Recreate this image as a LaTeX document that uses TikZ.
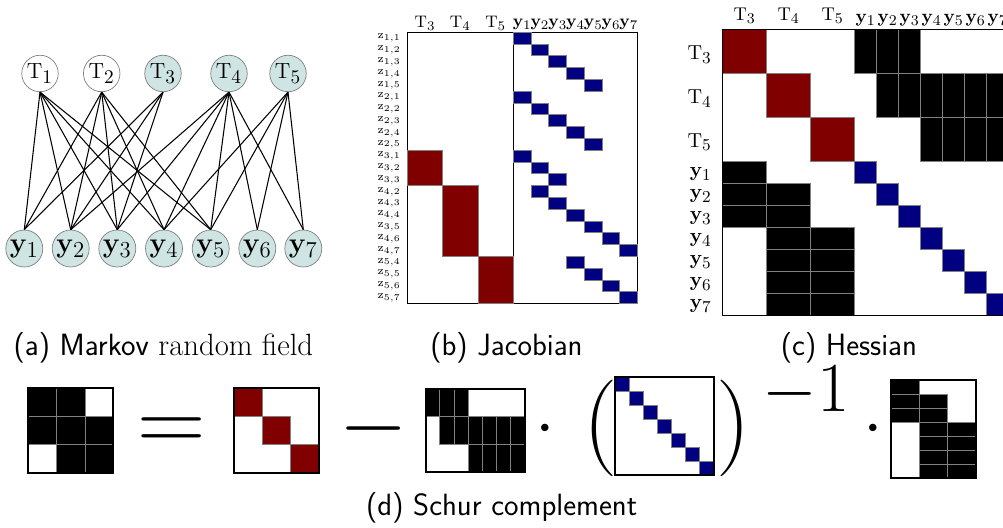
\RequirePackage{fix-cm}
\documentclass[tikz,border=0pt]{standalone}
\usepackage{amssymb, amsmath}
\usepackage{tikz}

\DeclareMathSizes{12.5}{12.5}{11}{8}
\DeclareMathSizes{16}{16}{13}{10}
\DeclareMathSizes{9.5}{9.5}{7.5}{6}
\DeclareMathSizes{10.5}{10.5}{8.5}{6}
\DeclareMathSizes{11.5}{11.5}{9.5}{7}
\DeclareMathSizes{6.5}{6.5}{5}{5}

\definecolor{mrfteal}{RGB}{207,229,227}
\definecolor{blockred}{RGB}{128,0,0}
\definecolor{blockblue}{RGB}{0,0,128}

\tikzset{
  tnode/.style={circle, draw=gray, fill=white, minimum size=0.73cm, inner sep=0pt, font=\fontsize{12.5}{14}\selectfont},
  ynode/.style={circle, draw=gray, fill=mrfteal, minimum size=0.74cm, inner sep=0pt, font=\fontsize{16}{19}\selectfont},
  redcell/.style={draw=gray, fill=blockred, line width=0.5pt},
  bluecell/.style={draw=gray, fill=blockblue, line width=0.5pt},
  blackcell/.style={draw=gray, fill=black, line width=0.5pt},
  subcap/.style={anchor=base, inner sep=0pt, font=\fontsize{17.5}{20}\sffamily},
  zlabel/.style={anchor=east, inner sep=0pt, font=\fontsize{6.5}{7}\selectfont},
  jhead/.style={anchor=base, inner sep=0pt, font=\fontsize{9.5}{11}\selectfont},
  hhead/.style={anchor=base, inner sep=0pt, font=\fontsize{10.5}{12}\selectfont},
  hrow/.style={anchor=base east, inner sep=0pt, font=\fontsize{11.5}{13}\selectfont},
  bigsym/.style={anchor=base, inner sep=0pt}
}

\begin{document}
\begin{tikzpicture}[x=0.02cm, y=-0.02cm]
  \useasboundingbox (0,0) rectangle (1003,527);

  % (a) Markov random field
  \node[tnode] (T1) at (40,73.5) {$\mathrm{T}_1$};
  \node[tnode] (T2) at (101.7,73.5) {$\mathrm{T}_2$};
  \node[tnode, fill=mrfteal] (T3) at (163,73.5) {$\mathrm{T}_3$};
  \node[tnode, fill=mrfteal] (T4) at (229,73.5) {$\mathrm{T}_4$};
  \node[tnode, fill=mrfteal] (T5) at (288,73.5) {$\mathrm{T}_5$};
  \foreach \k/\x in {1/24.3,2/70.7,3/117.3,4/164,5/210.7,6/257.3,7/303.3}
    \node[ynode] (y\k) at (\x,248.5) {$\mathbf{y}_\k$};
  \foreach \t/\ys in {1/{1,2,3,4,5}, 2/{1,2,3,4,5}, 3/{1,2,3}, 4/{2,3,4,5,6,7}, 5/{4,5,6,7}}
    \foreach \y in \ys \draw[semithick] (T\t.south) -- (y\y.north);
  \node[subcap] (capa) at (163.4,355) {(a) Markov \rmfamily random field};

  % (b) Jacobian
  \draw[semithick] (407.3,32.3) rectangle (637.7,303.7);
  \draw[semithick] (513.3,32.3) -- (513.3,303.7);
  \draw[redcell] (407.3,150.3) rectangle (442.6,185.7);
  \draw[redcell] (442.6,185.7) rectangle (478,256.5);
  \draw[redcell] (478,256.5) rectangle (513.3,303.7);
  \foreach \r/\c in {0/1,1/2,2/3,3/4,4/5,5/1,6/2,7/3,8/4,9/5,10/1,11/2,12/3,13/2,14/3,15/4,16/5,17/6,18/7,19/4,20/5,21/6,22/7}
    \draw[bluecell] ({513.3+17.77*(\c-1)},{32.3+11.8*\r}) rectangle ++(17.77,11.8);
  \foreach \k/\x in {3/425,4/460.3,5/495.7}
    \node[jhead] (jT\k) at (\x,28) {$\mathrm{T}_\k$};
  \foreach \k in {1,...,7}
    \node[jhead] (jy\k) at ({513.3+17.77*(\k-0.5)},27) {$\mathbf{y}_\k$};
  \foreach \a/\b [count=\r from 0] in {1/1,1/2,1/3,1/4,1/5,2/1,2/2,2/3,2/4,2/5,3/1,3/2,3/3,4/2,4/3,4/4,3/5,4/6,4/7,5/4,5/5,5/6,5/7}
    \node[zlabel] (z\r) at (401,{38.2+11.8*\r}) {$\mathrm{z}_{\a,\b}$};
  \node[subcap] (capb) at (506.4,355) {(b) Jacobian};

  % (c) Hessian
  \begin{scope}[shift={(722.7,29.3)}]
  \begin{scope}[x=0.44cm, y=-0.44cm]
    \draw[redcell] (0,0) rectangle (2,2);
    \draw[redcell] (2,2) rectangle (4,4);
    \draw[redcell] (4,4) rectangle (6,6);
    \foreach \k in {1,...,7}
      \draw[bluecell] ({5+\k},{5+\k}) rectangle ({6+\k},{6+\k});
    \foreach \r/\c in {0/1,0/2,0/3,2/2,2/3,2/4,2/5,2/6,2/7,4/4,4/5,4/6,4/7}
      \draw[blackcell] ({5+\c},\r) rectangle ({6+\c},{\r+2});
    \foreach \k/\c in {1/0,2/0,2/2,3/0,3/2,4/2,4/4,5/2,5/4,6/2,6/4,7/2,7/4}
      \draw[blackcell] (\c,{5+\k}) rectangle ({\c+2},{6+\k});
    \draw[semithick] (13,0) -- (0,0) -- (0,13) -- (13,13);
    \foreach \k/\x in {3/1,4/3,5/5}
      \node[hhead] (hT\k) at (\x,-0.39) {$\mathrm{T}_\k$};
    \foreach \k in {1,...,7}
      \node[hhead] (hy\k) at ({5.5+\k},-0.3) {$\mathbf{y}_\k$};
    \foreach \k/\y in {3/1.36,4/3.36,5/5.36}
      \node[hrow] (rT\k) at (-0.49,\y) {$\mathrm{T}_\k$};
    \foreach \k in {1,...,7}
      \node[hrow] (ry\k) at (-0.49,{5.68+\k}) {$\mathbf{y}_\k$};
  \end{scope}
  \end{scope}
  \node[subcap] (capc) at (848.9,355) {(c) Hessian};

  % (d) Schur complement
  \begin{scope}[shift={(28.3,388.3)}]
  \begin{scope}[x=0.5667cm, y=-0.5627cm]
    \foreach \r/\c in {0/0,0/1,1/0,1/1,1/2,2/1,2/2}
      \draw[blackcell] (\c,\r) rectangle ++(1,1);
    \draw[very thick] (0,0) rectangle (3,3);
  \end{scope}
  \end{scope}
  \node[bigsym, font=\fontsize{54}{60}\selectfont] (eq) at (172,451.8) {$=$};

  \begin{scope}[shift={(234.3,388.3)}]
  \begin{scope}[x=0.5647cm, y=-0.5627cm]
    \foreach \k in {0,1,2}
      \draw[redcell] (\k,\k) rectangle ++(1,1);
    \draw[very thick] (0,0) rectangle (3,3);
  \end{scope}
  \end{scope}
  \node[bigsym, font=\fontsize{50}{60}\selectfont] (minus) at (373.3,450.3) {$-$};

  \begin{scope}[shift={(425.7,389)}]
  \begin{scope}[x=0.2837cm, y=-0.5513cm]
    \foreach \r/\c in {0/0,0/1,0/2,1/1,1/2,1/3,1/4,1/5,1/6,2/3,2/4,2/5,2/6}
      \draw[blackcell] (\c,\r) rectangle ++(1,1);
    \draw[very thick] (0,0) rectangle (7,3);
  \end{scope}
  \end{scope}
  \node[bigsym, font=\fontsize{40}{48}\selectfont] (dot1) at (545,445.6) {$\cdot$};

  \node[inner sep=0pt, font=\fontsize{55}{60}\selectfont] (lpar) at (600.5,428.3) {$($};
  \begin{scope}[shift={(615,377.3)}]
  \begin{scope}[x=0.2829cm, y=-0.2791cm]
    \foreach \k in {0,...,6}
      \draw[bluecell] (\k,\k) rectangle ++(1,1);
    \draw[very thick] (0,0) rectangle (7,7);
  \end{scope}
  \end{scope}
  \node[inner sep=0pt, font=\fontsize{55}{60}\selectfont] (rpar) at (734,428.3) {$)$};
  \node[bigsym, font=\fontsize{40}{48}\selectfont] (inv) at (806,411.7) {$-1$};
  \node[bigsym, font=\fontsize{40}{48}\selectfont] (dot2) at (873,445.6) {$\cdot$};

  \begin{scope}[shift={(890.7,380)}]
  \begin{scope}[x=0.5687cm, y=-0.2809cm]
    \foreach \r/\c in {0/0,1/0,1/1,2/0,2/1,3/1,3/2,4/1,4/2,5/1,5/2,6/1,6/2}
      \draw[blackcell] (\c,\r) rectangle ++(1,1);
    \draw[very thick] (0,0) rectangle (3,7);
  \end{scope}
  \end{scope}
  \node[subcap] (capd) at (501.7,515) {(d) Schur complement};
\end{tikzpicture}
\end{document}
